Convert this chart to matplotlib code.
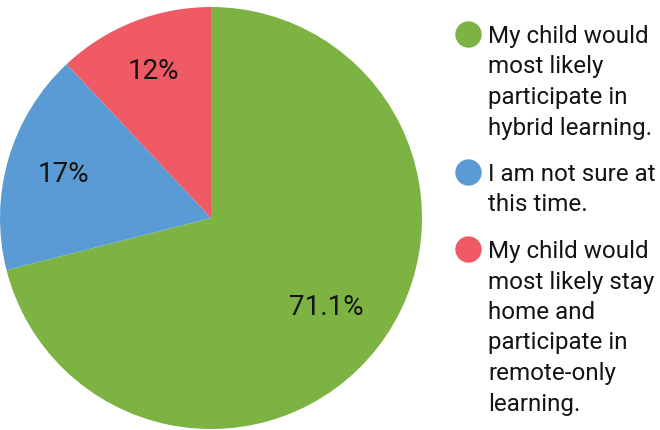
import matplotlib
matplotlib.use("Agg")
import matplotlib.pyplot as plt
from matplotlib.lines import Line2D
import numpy as np

categories = [
    "My child would\nmost likely\nparticipate in\nhybrid learning.",
    "I am not sure at\nthis time.",
    "My child would\nmost likely stay\nhome and\nparticipate in\nremote-only\nlearning.",
]
values = [71.1, 17.0, 12.0]
value_labels = ["71.1%", "17%", "12%"]
colors = ["#7cb342", "#5b9bd5", "#ef5a64"]

plt.rcParams['font.family'] = ['Roboto', 'DejaVu Sans']

W, H = 660, 430
fig = plt.figure(figsize=(6.6, 4.3), dpi=100)
ax = fig.add_axes([0.0, 0.0023, 422 / W, 422 / H])
wedges, _ = ax.pie(values, colors=colors, startangle=90, counterclock=False,
                   radius=1.0, wedgeprops=dict(linewidth=0))
ax.set_xlim(-1, 1)
ax.set_ylim(-1, 1)
ax.set_aspect('auto')
ax.axis('off')

dists = [0.69, 0.73, 0.745]
for w, lab, d in zip(wedges, value_labels, dists):
    ang = np.deg2rad((w.theta1 + w.theta2) / 2)
    ax.text(d * np.cos(ang), d * np.sin(ang), lab, ha='center', va='center',
            fontsize=20, color='#141414')

# legend (drawn manually, pixel layout from top)
baseline = 43.0
pitch = 30.5
gap = 16.0
for cat, col in zip(categories, colors):
    lines = cat.split("\n")
    fig.add_artist(Line2D([467.5 / W], [1 - (baseline - 9) / H], marker='o',
                          markersize=18, color=col, linestyle='none',
                          transform=fig.transFigure))
    for i, ln in enumerate(lines):
        yb = baseline + i * pitch
        fig.text(488 / W, 1 - yb / H, ln, ha='left', va='baseline',
                 fontsize=17.4, color='#141414')
    baseline += (len(lines) - 1) * pitch + pitch + gap

fig.savefig("out.png", dpi=100, facecolor='white')
